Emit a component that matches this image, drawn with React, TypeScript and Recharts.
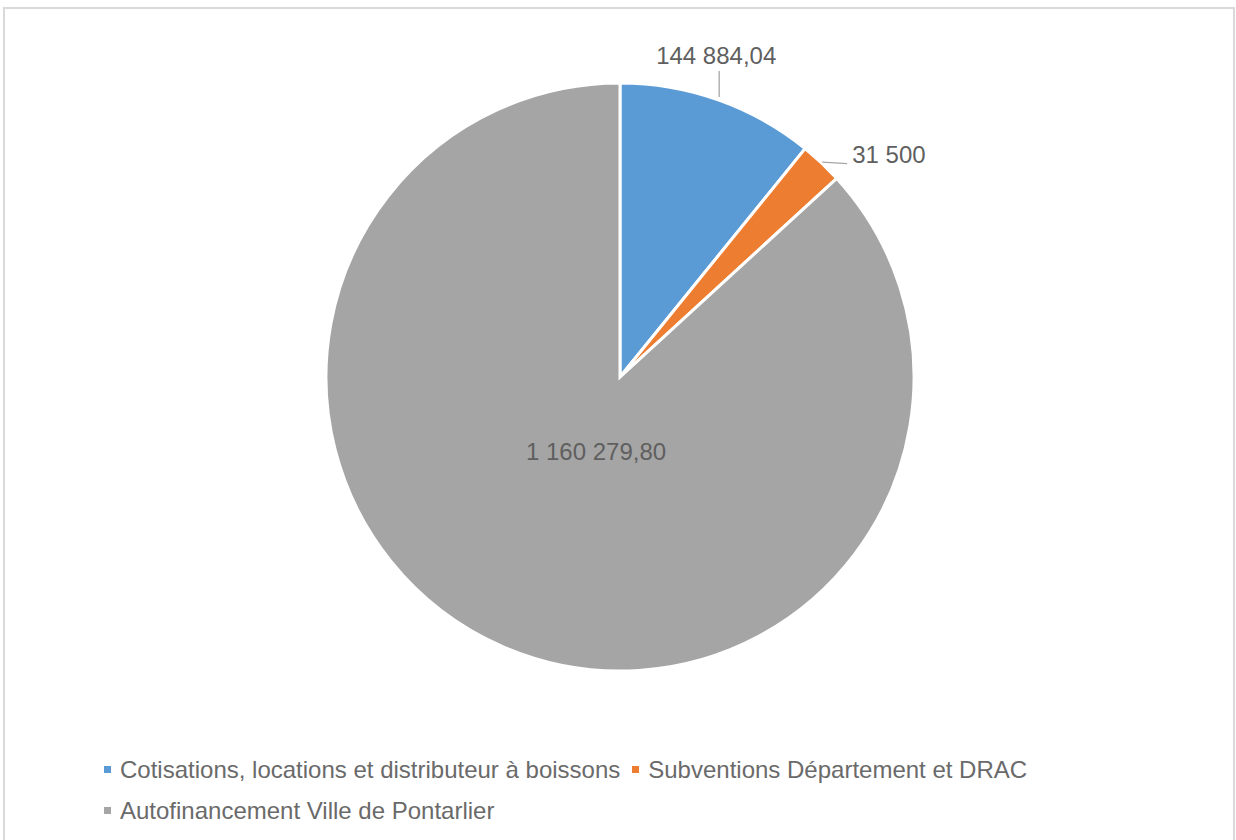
import React from 'react';
import { PieChart, Pie, Cell, Legend } from 'recharts';

const NAMES = [
  'Cotisations, locations et distributeur à boissons',
  'Subventions Département et DRAC',
  'Autofinancement Ville de Pontarlier',
];
const VALUES = [144884.04, 31500, 1160279.8];
const LABELS = ['144 884,04', '31 500', '1 160 279,80'];
const COLORS = ['#5B9BD5', '#ED7D31', '#A5A5A5'];

const FONT = '"Liberation Sans", Arial, sans-serif';
const TEXT = '#5f5f5f';
const RAD = Math.PI / 180;

const chartData = NAMES.map((name, i) => ({ name, value: VALUES[i], label: LABELS[i] }));

const renderLabel = (props: any) => {
  const { cx, cy, midAngle, outerRadius, index } = props;
  const cos = Math.cos(-midAngle * RAD);
  const sin = Math.sin(-midAngle * RAD);
  const text = LABELS[index];
  if (index === 0) {
    // leader goes straight up
    const px = cx + (outerRadius + 3) * cos;
    const py = cy + (outerRadius + 3) * sin;
    return (
      <g>
        <line x1={px} y1={py} x2={px} y2={py - 26} stroke="#a6a6a6" strokeWidth={1.3} />
        <text x={px - 3} y={py - 33} textAnchor="middle" fill={TEXT} fontSize={24} fontFamily={FONT}>
          {text}
        </text>
      </g>
    );
  }
  if (index === 1) {
    const px = cx + (outerRadius + 1) * cos;
    const py = cy + (outerRadius + 1) * sin;
    return (
      <g>
        <line x1={px} y1={py} x2={px + 25} y2={py + 1.5} stroke="#a6a6a6" strokeWidth={1.3} />
        <text x={px + 30} y={py + 1} textAnchor="start" fill={TEXT} fontSize={24} fontFamily={FONT}>
          {text}
        </text>
      </g>
    );
  }
  // big slice: label inside
  const r = outerRadius * 0.27;
  const x = cx + r * cos + 8;
  const y = cy + r * sin + 2;
  return (
    <text x={x} y={y} textAnchor="middle" dominantBaseline="central" fill={TEXT} fontSize={24} fontFamily={FONT}>
      {text}
    </text>
  );
};

const renderLegend = () => (
  <div
    style={{
      display: 'flex',
      flexWrap: 'wrap',
      width: 940,
      rowGap: 14,
      fontFamily: FONT,
      fontSize: 24,
      color: '#6a6a6a',
    }}
  >
    {NAMES.map((n, i) => (
      <div key={n} style={{ display: 'flex', alignItems: 'center', marginRight: 12, lineHeight: '27px' }}>
        <span style={{ width: 7, height: 7, background: COLORS[i], marginRight: 9, display: 'inline-block' }} />
        <span>{n}</span>
      </div>
    ))}
  </div>
);

export default function App() {
  return (
    <div style={{ position: 'absolute', left: 0, top: 0, width: 1236, height: 840, background: '#fff', overflow: 'hidden' }}>
      <div
        style={{
          position: 'absolute',
          left: 3,
          top: 7,
          width: 1232,
          height: 850,
          border: '2px solid #d9d9d9',
          boxSizing: 'border-box',
        }}
      />
      <div style={{ position: 'absolute', left: 0, top: 0 }}>
        <PieChart width={1236} height={840} margin={{ top: 0, right: 0, bottom: 0, left: 0 }}>
          <Pie
            data={chartData}
            dataKey="value"
            nameKey="name"
            cx={620}
            cy={377}
            outerRadius={294}
            startAngle={90}
            endAngle={-270}
            stroke="#fff"
            strokeWidth={3}
            label={renderLabel}
            labelLine={false}
            isAnimationActive={false}
          >
            {chartData.map((d, i) => (
              <Cell key={d.name} fill={COLORS[i]} />
            ))}
          </Pie>
          <Legend
            content={renderLegend}
            layout="horizontal"
            verticalAlign="bottom"
            wrapperStyle={{ left: 104, top: 756, width: 940 }}
          />
        </PieChart>
      </div>
    </div>
  );
}
